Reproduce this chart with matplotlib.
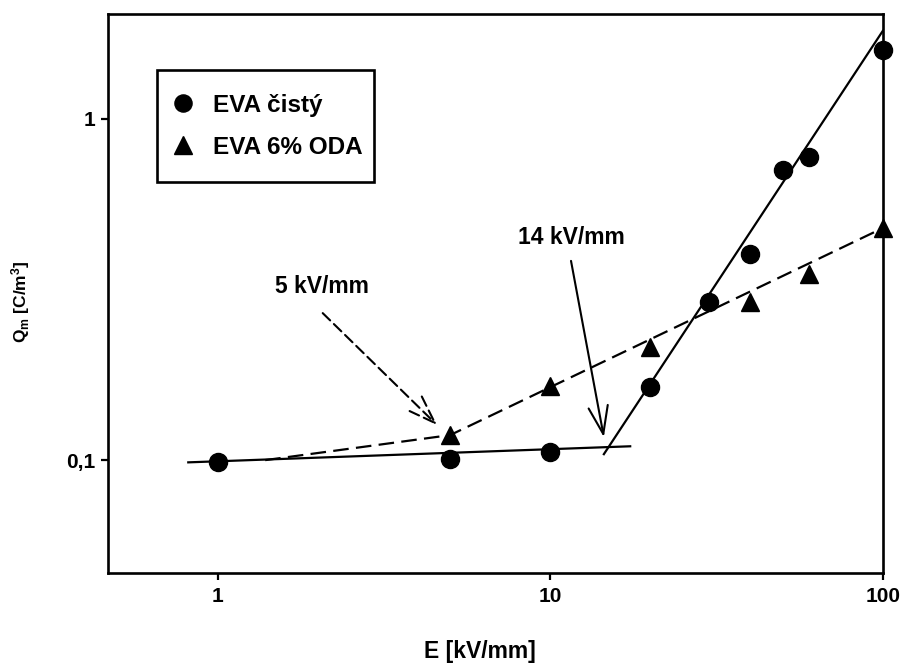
import numpy as np
import matplotlib
matplotlib.use('Agg')
import matplotlib.pyplot as plt
from matplotlib.patches import Rectangle
from matplotlib.ticker import FixedLocator, FixedFormatter, NullLocator

plt.rcParams['font.family'] = ['Liberation Sans', 'DejaVu Sans']
plt.rcParams['font.weight'] = 'bold'
plt.rcParams['mathtext.fontset'] = 'custom'
plt.rcParams['mathtext.rm'] = 'Liberation Sans:bold'
plt.rcParams['mathtext.it'] = 'Liberation Sans:bold'
plt.rcParams['mathtext.bf'] = 'Liberation Sans:bold'

# EVA cisty (circles)
e_pure = [1, 5, 10, 20, 30, 40, 50, 60, 100]
q_pure = [0.099, 0.1007, 0.1055, 0.164, 0.291, 0.402, 0.71, 0.775, 1.59]

# EVA 6% ODA (triangles)
e_oda = [5, 10, 20, 40, 60, 100]
q_oda = [0.1186, 0.165, 0.215, 0.291, 0.351, 0.479]

# fitted lines
fit_low_x = [0.816, 17.4]
fit_low_y = [0.0987, 0.110]
fit_high_x = [14.5, 100]
fit_high_y = [0.1043, 1.81]
fit_oda_x = [1.39, 5, 100]
fit_oda_y = [0.1002, 0.1186, 0.479]

fig = plt.figure(figsize=(9.04, 6.64), dpi=100)
ax = fig.add_axes([0.1191, 0.1375, 0.8574, 0.8415])
ax.set_xscale('log')
ax.set_yscale('log')
ax.set_xlim(0.467, 100)
ax.set_ylim(0.0469, 2.03)

ax.plot(fit_low_x, fit_low_y, color='black', lw=1.6)
ax.plot(fit_high_x, fit_high_y, color='black', lw=1.6)
ax.plot(fit_oda_x, fit_oda_y, color='black', lw=1.6, linestyle=(0, (7, 3.3)))

ax.plot(e_pure, q_pure, 'o', color='black', ms=13, label='EVA čistý', clip_on=False, zorder=5)
ax.plot(e_oda, q_oda, '^', color='black', ms=13, label='EVA 6% ODA', clip_on=False, zorder=5)

# annotations
ax.annotate('', xy=(4.57, 0.1269), xytext=(2.07, 0.270),
            arrowprops=dict(arrowstyle='->,head_length=1.0,head_width=0.35', lw=1.5,
                            linestyle=(0, (5, 2.5)), color='black', mutation_scale=20,
                            shrinkA=0, shrinkB=0))
ax.text(2.06, 0.322, '5 kV/mm', fontsize=16.5, fontweight='bold', ha='center', va='center')

ax.annotate('', xy=(14.5, 0.117), xytext=(11.55, 0.384),
            arrowprops=dict(arrowstyle='->,head_length=1.0,head_width=0.35', lw=1.5,
                            color='black', mutation_scale=20, shrinkA=0, shrinkB=0))
ax.text(11.55, 0.451, '14 kV/mm', fontsize=16.5, fontweight='bold', ha='center', va='center')

# ticks
ax.xaxis.set_major_locator(FixedLocator([1, 10, 100]))
ax.xaxis.set_major_formatter(FixedFormatter(['1', '10', '100']))
ax.xaxis.set_minor_locator(NullLocator())
ax.yaxis.set_major_locator(FixedLocator([0.1, 1]))
ax.yaxis.set_major_formatter(FixedFormatter(['0,1', '1']))
ax.yaxis.set_minor_locator(NullLocator())
ax.tick_params(axis='both', direction='out', length=5, width=1.6, labelsize=15)
ax.tick_params(axis='x', pad=5.5)
ax.tick_params(axis='y', pad=4)
for lab in ax.get_xticklabels() + ax.get_yticklabels():
    lab.set_fontweight('bold')
for s in ax.spines.values():
    s.set_linewidth(1.9)

ax.set_xlabel('E [kV/mm]', fontsize=16.5, fontweight='bold')
ax.xaxis.set_label_coords(0.48, -0.121)
ax.set_ylabel(r'Q$_{\rm m}$ [C/m$^{\rm 3}$]', fontsize=12.5, fontweight='bold')
ax.yaxis.set_label_coords(-0.097, 0.4845)

# legend (frame drawn as a separate box)
leg = ax.legend(loc='center left', bbox_to_anchor=(0.0799, 0.7994), borderaxespad=0,
                borderpad=0, frameon=False, fontsize=17.5,
                handlelength=1.1, handletextpad=0.7, labelspacing=0.78,
                markerscale=0.95)
ax.add_patch(Rectangle((0.0636, 0.6993), 0.280, 0.2005, transform=ax.transAxes,
                       fill=False, edgecolor='black', lw=1.9, zorder=6))

fig.savefig('out.png', dpi=100)
